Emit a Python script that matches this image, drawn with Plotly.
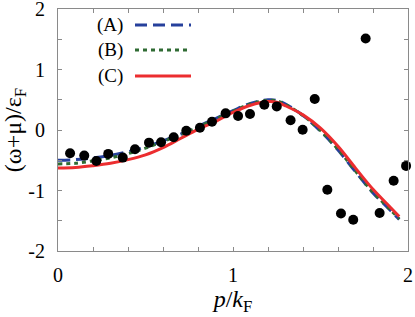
import plotly.graph_objects as go

# Curve sample points
x_curve = [0.0, 0.1, 0.2, 0.3, 0.4, 0.5, 0.6, 0.7, 0.8, 0.9, 1.0, 1.1, 1.2, 1.25,
           1.3, 1.4, 1.5, 1.6, 1.7, 1.8, 1.9, 1.95]
y_A = [-0.50, -0.49, -0.46, -0.42, -0.36, -0.28, -0.18, -0.07, 0.06, 0.19, 0.32,
       0.44, 0.50, 0.49, 0.43, 0.24, -0.02, -0.33, -0.69, -1.04, -1.33, -1.48]
y_B = [-0.56, -0.55, -0.51, -0.46, -0.39, -0.30, -0.19, -0.08, 0.05, 0.18, 0.31,
       0.43, 0.49, 0.48, 0.42, 0.24, -0.01, -0.32, -0.68, -1.03, -1.32, -1.47]
y_C = [-0.63, -0.62, -0.59, -0.55, -0.49, -0.41, -0.29, -0.14, 0.01, 0.14, 0.29,
       0.41, 0.47, 0.46, 0.40, 0.25, 0.03, -0.27, -0.63, -0.98, -1.28, -1.43]

# Data points
x_pts = [0.069, 0.150, 0.219, 0.287, 0.370, 0.440, 0.520, 0.589, 0.661, 0.733,
         0.811, 0.880, 0.958, 1.029, 1.097, 1.179, 1.250, 1.329, 1.398, 1.467,
         1.539, 1.617, 1.687, 1.758, 1.838, 1.918, 1.989]
y_pts = [-0.384, -0.423, -0.511, -0.395, -0.456, -0.319, -0.209, -0.203, -0.120,
         -0.011, 0.038, 0.137, 0.275, 0.231, 0.264, 0.417, 0.390, 0.160, 0.005,
         0.511, -0.988, -1.379, -1.483, 1.511, -1.372, -0.840, -0.593]

labels = ["(A)", "(B)", "(C)"]
colors = ["#26409c", "#2f6b33", "#ec2d2f"]
dashes = ["12px,6px", "4px,4px", "solid"]

FONT = "Liberation Serif"

fig = go.Figure()
for ys, c, d, lab in zip([y_A, y_B, y_C], colors, dashes, labels):
    fig.add_trace(go.Scatter(x=x_curve, y=ys, mode="lines", name=lab,
                             line=dict(color=c, width=3, dash=d, shape="spline"),
                             showlegend=False))
fig.add_trace(go.Scatter(x=x_pts, y=y_pts, mode="markers",
                         marker=dict(color="black", size=10), showlegend=False,
                         cliponaxis=False))

# Custom legend (text left of line sample)
leg_y = [0.934, 0.831, 0.723]
for lab, c, d, yy in zip(labels, colors, dashes, leg_y):
    fig.add_annotation(x=0.19, y=yy, xref="paper", yref="paper", text=lab,
                       showarrow=False, xanchor="right", yanchor="middle",
                       font=dict(family=FONT, size=19, color="black"))
    fig.add_shape(type="line", xref="paper", yref="paper", x0=0.22, x1=0.38,
                  y0=yy, y1=yy, line=dict(color=c, width=3,
                                          dash=None if d == "solid" else d))

axis_common = dict(showgrid=False, zeroline=False, showline=True, linecolor="#8a8a8a",
                   linewidth=1.2, mirror="ticks", ticks="inside", ticklen=4,
                   tickcolor="#8a8a8a", tickwidth=1, automargin=False,
                   ticklabeloverflow="allow",
                   tickfont=dict(family=FONT, size=20, color="black"))

fig.update_xaxes(range=[0, 2], tickvals=[0, 1, 2], ticktext=["0", "1", "2"],
                 minor=dict(dtick=0.2, ticks="inside", ticklen=4, tickcolor="#8a8a8a"),
                 ticklabelstandoff=6,
                 title=dict(text="<i>p</i>/<i>k</i><sub>F</sub>", standoff=0,
                            font=dict(family=FONT, size=24, color="black")),
                 **axis_common)
fig.update_yaxes(range=[-2, 2], tickvals=[-2, -1, 0, 1, 2],
                 ticktext=["-2", "-1", "0", "1", "2"],
                 minor=dict(dtick=0.5, ticks="inside", ticklen=4, tickcolor="#8a8a8a"),
                 ticklabelstandoff=8,
                 title=dict(text="(ω+μ)/ε<sub>F</sub>", standoff=2,
                            font=dict(family=FONT, size=24, color="black")),
                 **axis_common)

fig.update_layout(width=415, height=317, margin=dict(l=58, r=7, t=9, b=66),
                  plot_bgcolor="white", paper_bgcolor="white")

fig.write_html("out.html", config={"displayModeBar": False},
               post_script="document.body.style.margin='0';document.body.style.overflow='hidden';")
